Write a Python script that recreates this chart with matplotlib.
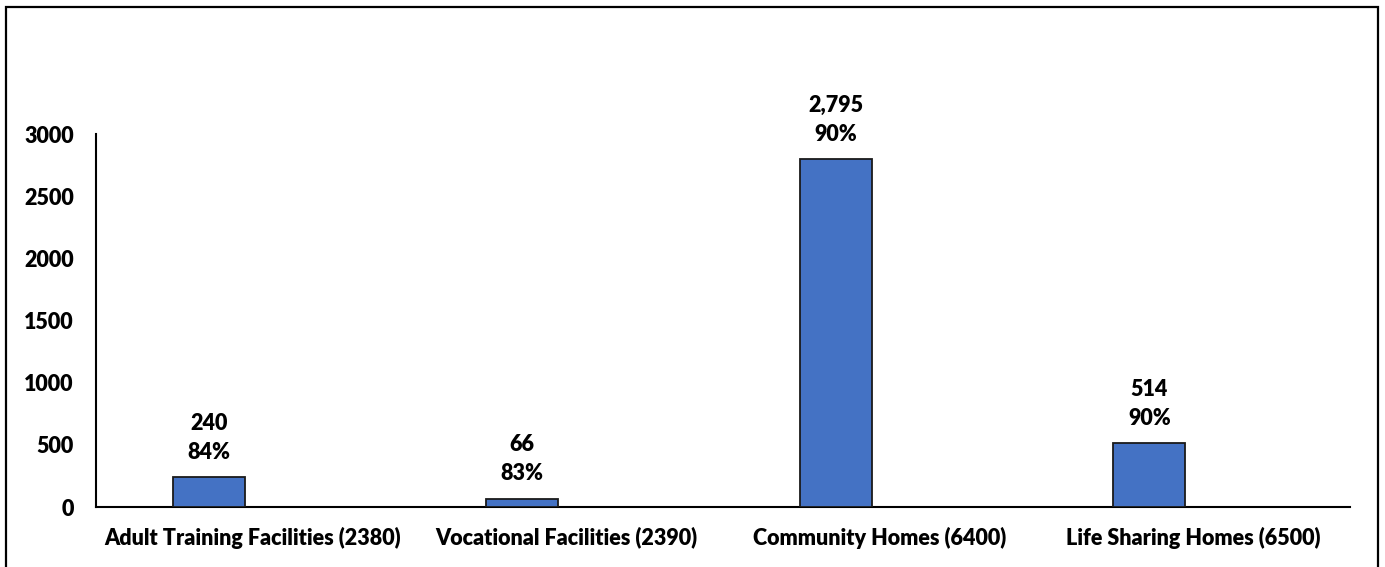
import matplotlib
matplotlib.use("Agg")
import matplotlib.pyplot as plt
from matplotlib.patches import Rectangle
import numpy as np

categories = ["Adult Training Facilities (2380)", "Vocational Facilities (2390)",
              "Community Homes (6400)", "Life Sharing Homes (6500)"]
counts = [240, 66, 2795, 514]
percents = ["84%", "83%", "90%", "90%"]
yticks = [0, 500, 1000, 1500, 2000, 2500, 3000]

plt.rcParams['font.family'] = ['Lato', 'DejaVu Sans']
plt.rcParams['font.weight'] = 'bold'
FS = 15.5
FW = "heavy"

W, H = 1385, 567
fig = plt.figure(figsize=(W / 100, H / 100), dpi=100)
ax = fig.add_axes([96 / W, (H - 507) / H, (1350 - 96) / W, (507 - 134) / H])

x = np.arange(len(categories))
offset = -0.14
ax.bar(x + offset, counts, width=0.23, color="#4472C4", edgecolor="#1a1a1a", linewidth=1.3, zorder=3)

for xi, c, p in zip(x, counts, percents):
    ax.annotate(p, (xi + offset, c), xytext=(0, 25), textcoords="offset pixels",
                ha="center", va="center", fontsize=FS, fontweight=FW)
    ax.annotate(f"{c:,}", (xi + offset, c), xytext=(0, 54), textcoords="offset pixels",
                ha="center", va="center", fontsize=FS, fontweight=FW)

ax.set_xlim(-0.5, len(categories) - 0.5)
ax.set_ylim(0, 3000)
ax.set_yticks(yticks)
ax.set_yticklabels([str(v) for v in yticks], fontsize=FS, fontweight=FW)
ax.set_xticks(x)
ax.set_xticklabels(categories, fontsize=FS, fontweight=FW)
ax.tick_params(axis="both", length=0)
ax.tick_params(axis="y", pad=16)
ax.tick_params(axis="x", pad=14)
for s in ["top", "right"]:
    ax.spines[s].set_visible(False)
ax.spines["left"].set_linewidth(1.5)
ax.spines["bottom"].set_linewidth(1.5)

fig.patches.append(Rectangle((6 / W, -0.05), (1378 - 6) / W, 1.05 - 6.5 / H,
                             transform=fig.transFigure, fill=False,
                             edgecolor="black", linewidth=1.6))

fig.savefig("out.png", dpi=100)
